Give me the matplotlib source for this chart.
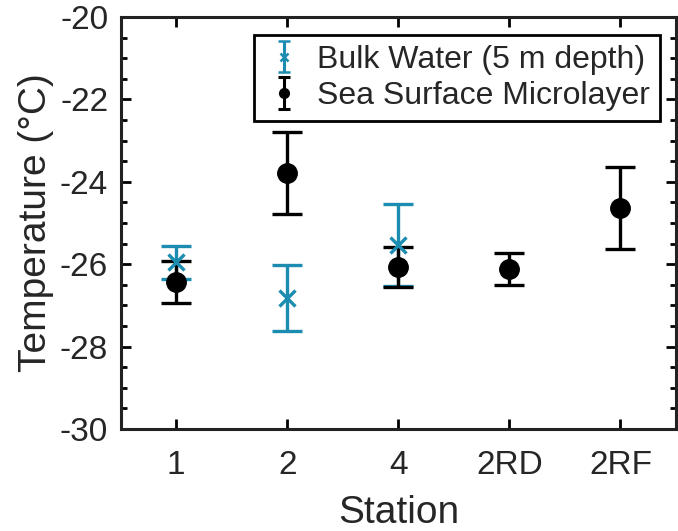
import matplotlib.pyplot as plt
import numpy as np
from matplotlib.ticker import MultipleLocator

plt.rcParams['font.family'] = ['Liberation Sans', 'DejaVu Sans']
plt.rcParams['axes.unicode_minus'] = False

stations = ['1', '2', '4', '2RD', '2RF']
bulk_x = [1, 2, 3]
bulk_mean = [-25.95, -26.83, -25.53]
bulk_err = [0.40, 0.80, 1.00]
sml_x = [1, 2, 3, 4, 5]
sml_mean = [-26.43, -23.78, -26.06, -26.12, -24.64]
sml_err = [0.50, 1.00, 0.49, 0.39, 0.99]

blue = '#1c8cb0'
txt = '#262626'

fig = plt.figure(figsize=(6.78, 5.31), dpi=100)
ax = fig.add_axes([0.178, 0.192, 0.819, 0.776])

ax.errorbar(bulk_x, bulk_mean, yerr=bulk_err, fmt='x', color=blue, ms=11,
            mew=2.4, elinewidth=2.4, capsize=11, capthick=2.4)
ax.errorbar(sml_x, sml_mean, yerr=sml_err, fmt='o', color='black', ms=14,
            elinewidth=2.4, capsize=11, capthick=2.4)

# small proxies for the legend entries
h1 = ax.errorbar([np.nan], [np.nan], yerr=[1], fmt='x', color=blue, ms=6,
                 mew=1.8, elinewidth=2.2, capsize=4.5, capthick=2.2)
h2 = ax.errorbar([np.nan], [np.nan], yerr=[1], fmt='o', color='black', ms=7,
                 elinewidth=2.2, capsize=4.5, capthick=2.2)

ax.set_xlim(0.5, 5.5)
ax.set_ylim(-30, -20)
ax.set_xticks(range(1, 6))
ax.set_xticklabels(stations)
ax.yaxis.set_major_locator(MultipleLocator(2))
ax.yaxis.set_minor_locator(MultipleLocator(0.5))
ax.tick_params(which='both', direction='in', top=True, right=True,
               labelsize=24, width=2, labelcolor=txt)
ax.tick_params(axis='x', pad=15)
ax.tick_params(axis='y', pad=9)
ax.tick_params(which='major', length=7)
ax.tick_params(which='minor', length=4)
for s in ax.spines.values():
    s.set_linewidth(2.2)
    s.set_color('#222222')

ax.set_xlabel('Station', fontsize=28, labelpad=10, color=txt)
ax.set_ylabel('Temperature (°C)', fontsize=28, labelpad=4, color=txt)

leg = ax.legend([h1, h2], ['Bulk Water (5 m depth)', 'Sea Surface Microlayer'],
                loc='upper right', fontsize=23, fancybox=False,
                edgecolor='black', framealpha=1, handlelength=1.3,
                handletextpad=0.4, borderpad=0.3, borderaxespad=0,
                labelspacing=0.2, bbox_to_anchor=(0.971, 0.956))
leg.get_frame().set_linewidth(2)
for t in leg.get_texts():
    t.set_color(txt)

fig.savefig('out.png', dpi=100)
